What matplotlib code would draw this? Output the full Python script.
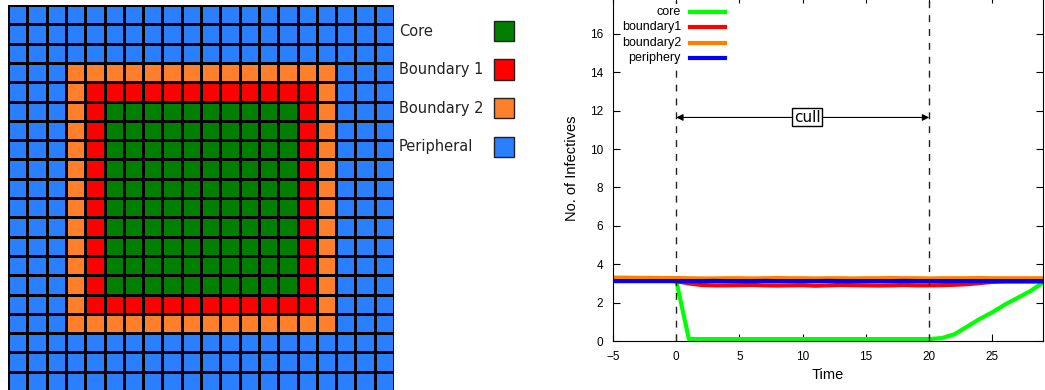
import numpy as np
import matplotlib
matplotlib.use("Agg")
import matplotlib.pyplot as plt
from matplotlib.colors import ListedColormap
from matplotlib.patches import Rectangle
from matplotlib.lines import Line2D

# grid layout: 20x20 cells, zone index per cell
n_cells = 20
zone_names = ["Core", "Boundary 1", "Boundary 2", "Peripheral"]
zone_colors = ["#007f00", "#ff0000", "#ff7f2a", "#2a7fff"]
core_range = (5, 14)
b1_range = (4, 15)
b2_range = (3, 16)

# time series
time = list(range(-5, 30))
core = [3.25, 3.25, 3.25, 3.24, 3.22, 3.15,
        0.1, 0.1, 0.1, 0.1, 0.1, 0.1, 0.1, 0.1, 0.1, 0.1,
        0.1, 0.1, 0.1, 0.1, 0.1, 0.1, 0.1, 0.1, 0.1, 0.1,
        0.15, 0.35, 0.75, 1.15, 1.5, 1.9, 2.25, 2.6, 3.05]
boundary1 = [3.15, 3.15, 3.15, 3.15, 3.15, 3.12,
             3.0, 2.92, 2.9, 2.9, 2.91, 2.92, 2.9, 2.89, 2.9, 2.91,
             2.88, 2.9, 2.92, 2.91, 2.9, 2.89, 2.9, 2.92, 2.9, 2.9,
             2.91, 2.93, 2.96, 3.02, 3.08, 3.1, 3.1, 3.1, 3.1]
boundary2 = [3.3, 3.3, 3.29, 3.29, 3.28, 3.28,
             3.27, 3.26, 3.26, 3.27, 3.27, 3.26, 3.27, 3.28, 3.27, 3.27,
             3.26, 3.27, 3.27, 3.26, 3.27, 3.27, 3.28, 3.27, 3.27, 3.26,
             3.27, 3.27, 3.27, 3.28, 3.27, 3.27, 3.27, 3.27, 3.27]
periphery = [3.12, 3.12, 3.12, 3.12, 3.12, 3.12,
             3.12, 3.12, 3.13, 3.12, 3.12, 3.12, 3.13, 3.12, 3.12, 3.12,
             3.12, 3.13, 3.12, 3.12, 3.12, 3.12, 3.12, 3.13, 3.12, 3.12,
             3.12, 3.12, 3.12, 3.12, 3.12, 3.12, 3.12, 3.12, 3.12]
series_names = ["core", "boundary1", "boundary2", "periphery"]
series_colors = ["#00ff00", "#ff0000", "#ff8000", "#0000ff"]
cull_start, cull_end = 0, 20

fig = plt.figure(figsize=(10.45, 3.9), dpi=100)

# ---- left: grid of zones
zones = np.full((n_cells, n_cells), 3)
zones[b2_range[0]:b2_range[1] + 1, b2_range[0]:b2_range[1] + 1] = 2
zones[b1_range[0]:b1_range[1] + 1, b1_range[0]:b1_range[1] + 1] = 1
zones[core_range[0]:core_range[1] + 1, core_range[0]:core_range[1] + 1] = 0

axg = fig.add_axes([8 / 1045, -1 / 390, 386 / 1045, 386 / 390])
axg.pcolormesh(zones, cmap=ListedColormap(zone_colors), vmin=-0.5, vmax=3.5,
               edgecolors="black", linewidth=0.9)
axg.set_xlim(0, n_cells)
axg.set_ylim(n_cells, 0)
axg.set_axis_off()

# legend for the grid
for i, (name, col) in enumerate(zip(zone_names, zone_colors)):
    yc = 1 - (31 + i * 38.5) / 390
    fig.text(399 / 1045, yc, name, fontsize=10.5, va="center", ha="left",
             family="DejaVu Sans", color="#222222")
    fig.patches.append(Rectangle((494 / 1045, yc - 10 / 390), 20 / 1045, 20 / 390,
                                 transform=fig.transFigure, facecolor=col,
                                 edgecolor="#222222", linewidth=1))

# ---- right: infectives over time
ax = fig.add_axes([613 / 1045, 49 / 390, 430 / 1045, 345.4 / 390])
for vals, name, col in zip([core, boundary1, boundary2, periphery], series_names, series_colors):
    ax.plot(time, vals, color=col, lw=3, label=name)

for xv in (cull_start, cull_end):
    ax.axvline(xv, color="#222222", lw=1, ls=(0, (5, 5)))
ax.annotate("", xy=(cull_end, 11.65), xytext=(cull_start, 11.65),
            arrowprops=dict(arrowstyle="<|-|>", color="black", lw=0.8,
                            mutation_scale=10, shrinkA=0, shrinkB=0))
ax.text(10.35, 11.65, "cull", ha="center", va="center", fontsize=11,
        family="DejaVu Sans",
        bbox=dict(boxstyle="square,pad=0.1", facecolor="white", edgecolor="black", lw=1))

ax.set_xlim(-5, 29)
ax.set_ylim(0, 18)
ax.set_xticks([-5, 0, 5, 10, 15, 20, 25])
ax.set_yticks(range(0, 19, 2))
ax.tick_params(direction="in", top=True, right=True, length=5, labelsize=8.5,
               pad=7)
for lab in ax.get_xticklabels() + ax.get_yticklabels():
    lab.set_family("Liberation Sans")
ax.set_xlabel("Time", fontsize=10.5, family="Liberation Sans", labelpad=4)
ax.set_ylabel("No. of Infectives", fontsize=10.5, family="Liberation Sans", labelpad=8)

# gnuplot-style key: right-aligned labels, sample line after, on a white patch
ax.add_patch(Rectangle((0.02, 1 - 66 / 345.4), 0.25, 58 / 345.4, transform=ax.transAxes,
                       facecolor="white", edgecolor="none", zorder=2.5))
for i, (name, col) in enumerate(zip(series_names, series_colors)):
    yk = 1 - (12 + i * 15.3 + 4.4) / 345.4
    ax.text(0.158, yk, name, transform=ax.transAxes, ha="right", va="center",
            fontsize=9, family="Liberation Sans", zorder=3)
    ax.add_line(Line2D([0.179, 0.260], [yk, yk], transform=ax.transAxes,
                       color=col, lw=3, zorder=3))

fig.savefig("out.png", dpi=100)
